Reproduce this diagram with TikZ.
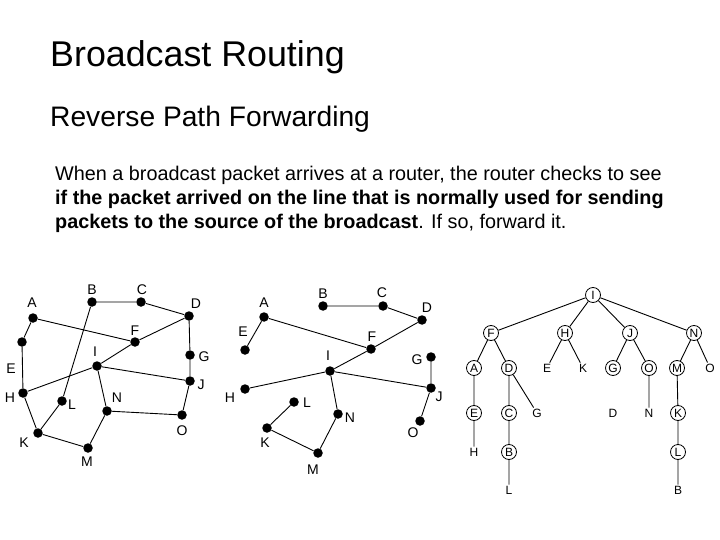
\documentclass[tikz,border=0pt]{standalone}
\usepackage{fontspec}
\setmainfont{Liberation Sans}
\usepackage{tikz}
\usetikzlibrary{calc}

\tikzset{
  dot/.style={circle,fill=black,inner sep=0pt,minimum size=9.5pt},
  lbl/.style={inner sep=0pt,font=\fontsize{14}{14}\selectfont},
  rtr/.style={circle,draw,line width=0.8pt,inner sep=0pt,minimum size=15pt,font=\fontsize{12}{12}\selectfont},
  leaf/.style={inner sep=1pt,font=\fontsize{12}{12}\selectfont},
  wire/.style={line width=0.9pt}
}

\begin{document}
\begin{tikzpicture}[x=1pt,y=-1pt]
\useasboundingbox (0,0) rectangle (720,540);

% heading and text
\node[anchor=base west,inner sep=0pt,font=\fontsize{35.8}{35.8}\selectfont] (title) at (50,67) {Broadcast Routing};
\node[anchor=base west,inner sep=0pt,font=\fontsize{28.2}{28.2}\selectfont] (sub) at (50,127) {Reverse Path Forwarding};
\node[anchor=base west,inner sep=0pt,font=\fontsize{19.8}{19.8}\selectfont] (txt1) at (55,181) {When a broadcast packet arrives at a router, the router checks to see};
\node[anchor=base west,inner sep=0pt,font=\fontsize{19.8}{19.8}\selectfont\bfseries] (txt2) at (55,205) {if the packet arrived on the line that is normally used for sending};
\node[anchor=base west,inner sep=0pt,font=\fontsize{19.8}{19.8}\selectfont] (txt3) at (55,229) {\textbf{packets to the source of the broadcast}. If so, forward it.};

% subnet
\node[dot] (a1) at (33,318) {};  \node[lbl] (a1l) at (32,303) {A};
\node[dot] (b1) at (92,302) {};  \node[lbl] (b1l) at (92,290) {B};
\node[dot] (c1) at (141,302) {}; \node[lbl] (c1l) at (142,290) {C};
\node[dot] (d1) at (189,316) {}; \node[lbl] (d1l) at (196,304) {D};
\node[dot] (e1) at (22,342) {};  \node[lbl] (e1l) at (11,369) {E};
\node[dot] (f1) at (135,342) {}; \node[lbl] (f1l) at (135,331) {F};
\node[dot] (g1) at (190,355) {}; \node[lbl] (g1l) at (204,357) {G};
\node[dot] (h1) at (23,393) {};  \node[lbl] (h1l) at (10,398) {H};
\node[dot] (i1) at (97,366) {};  \node[lbl] (i1l) at (95,352) {I};
\node[dot] (j1) at (190,381) {}; \node[lbl] (j1l) at (201,385) {J};
\node[dot] (k1) at (38,433) {};  \node[lbl] (k1l) at (24,443) {K};
\node[dot] (l1) at (62,401) {};  \node[lbl] (l1l) at (72,405) {L};
\node[dot] (m1) at (88,448) {};  \node[lbl] (m1l) at (87,462) {M};
\node[dot] (n1) at (107,411) {}; \node[lbl] (n1l) at (117,398) {N};
\node[dot] (o1) at (182,415) {}; \node[lbl] (o1l) at (182,431) {O};

\draw[wire] (b1) -- (c1) -- (d1) -- (g1) -- (j1) -- (o1) -- (n1) -- (m1) -- (k1) -- (h1) -- (e1) -- (a1) -- (f1) -- (d1);
\draw[wire] (h1) -- (i1) -- (f1);
\draw[wire] (i1) -- (j1);
\draw[wire] (i1) -- (n1);
\draw[wire] (k1) -- (l1) -- (b1);

% sink tree
\node[dot] (a2) at (264,317) {}; \node[lbl] (a2l) at (264,303) {A};
\node[dot] (b2) at (323,306) {}; \node[lbl] (b2l) at (323,294) {B};
\node[dot] (c2) at (383,306) {}; \node[lbl] (c2l) at (382,293) {C};
\node[dot] (d2) at (422,320) {}; \node[lbl] (d2l) at (427,308) {D};
\node[dot] (e2) at (245,350) {}; \node[lbl] (e2l) at (243,332) {E};
\node[dot] (f2) at (371,349) {}; \node[lbl] (f2l) at (372,337) {F};
\node[dot] (g2) at (431,357) {}; \node[lbl] (g2l) at (417,360) {G};
\node[dot] (h2) at (245,389) {}; \node[lbl] (h2l) at (230,398) {H};
\node[dot] (i2) at (330,371) {}; \node[lbl] (i2l) at (328,356) {I};
\node[dot] (j2) at (431,388) {}; \node[lbl] (j2l) at (439,397) {J};
\node[dot] (k2) at (267,428) {}; \node[lbl] (k2l) at (265,443) {K};
\node[dot] (l2) at (294,402) {}; \node[lbl] (l2l) at (307,403) {L};
\node[dot] (m2) at (318,453) {}; \node[lbl] (m2l) at (313,470) {M};
\node[dot] (n2) at (338,414) {}; \node[lbl] (n2l) at (350,418) {N};
\node[dot] (o2) at (420,421) {}; \node[lbl] (o2l) at (413,433) {O};

\draw[wire] (b2) -- (c2) -- (d2) -- (f2) -- (a2) -- (e2);
\draw[wire] (f2) -- (i2) -- (h2);
\draw[wire] (i2) -- (j2) -- (g2);
\draw[wire] (j2) -- (o2);
\draw[wire] (i2) -- (n2) -- (m2) -- (k2) -- (l2);

% broadcast tree
\node[rtr] (ti) at (593,295) {I};
\node[rtr] (tf) at (491,333) {F};
\node[rtr] (th) at (565,333) {H};
\node[rtr] (tj) at (630,333) {J};
\node[rtr] (tn) at (694,333) {N};
\node[rtr] (ta) at (474,368) {A};
\node[rtr] (td) at (509,368) {D};
\node[leaf] (te) at (547,368) {E};
\node[leaf] (tk) at (583,368) {K};
\node[rtr] (tg) at (613,368) {G};
\node[rtr] (to) at (649,368) {O};
\node[rtr] (tm) at (677,368) {M};
\node[leaf] (to2) at (710,368) {O};
\node[rtr] (te2) at (474,413) {E};
\node[rtr] (tc) at (509,413) {C};
\node[leaf] (tg2) at (537,413) {G};
\node[leaf] (td2) at (613,413) {D};
\node[leaf] (tn2) at (649,413) {N};
\node[rtr] (tk2) at (678,413) {K};
\node[leaf] (th2) at (474,452) {H};
\node[rtr] (tb) at (509,452) {B};
\node[rtr] (tl) at (678,452) {L};
\node[leaf] (tl2) at (509,490) {L};
\node[leaf] (tb2) at (678,490) {B};

\draw[wire] (ti) -- (tf);
\draw[wire] (ti) -- (th);
\draw[wire] (ti) -- (tj);
\draw[wire] (ti) -- (tn);
\draw[wire] (tf) -- (ta) -- (te2) -- (th2);
\draw[wire] (tf) -- (td) -- (tc) -- (tb) -- (tl2);
\draw[wire] (td) -- (tg2);
\draw[wire] (th) -- (te);
\draw[wire] (th) -- (tk);
\draw[wire] (tj) -- (tg);
\draw[wire] (tj) -- (to) -- (tn2);
\draw[wire] (tn) -- (tm) -- (tk2) -- (tl) -- (tb2);
\draw[wire] (tn) -- (to2);
\end{tikzpicture}
\end{document}
